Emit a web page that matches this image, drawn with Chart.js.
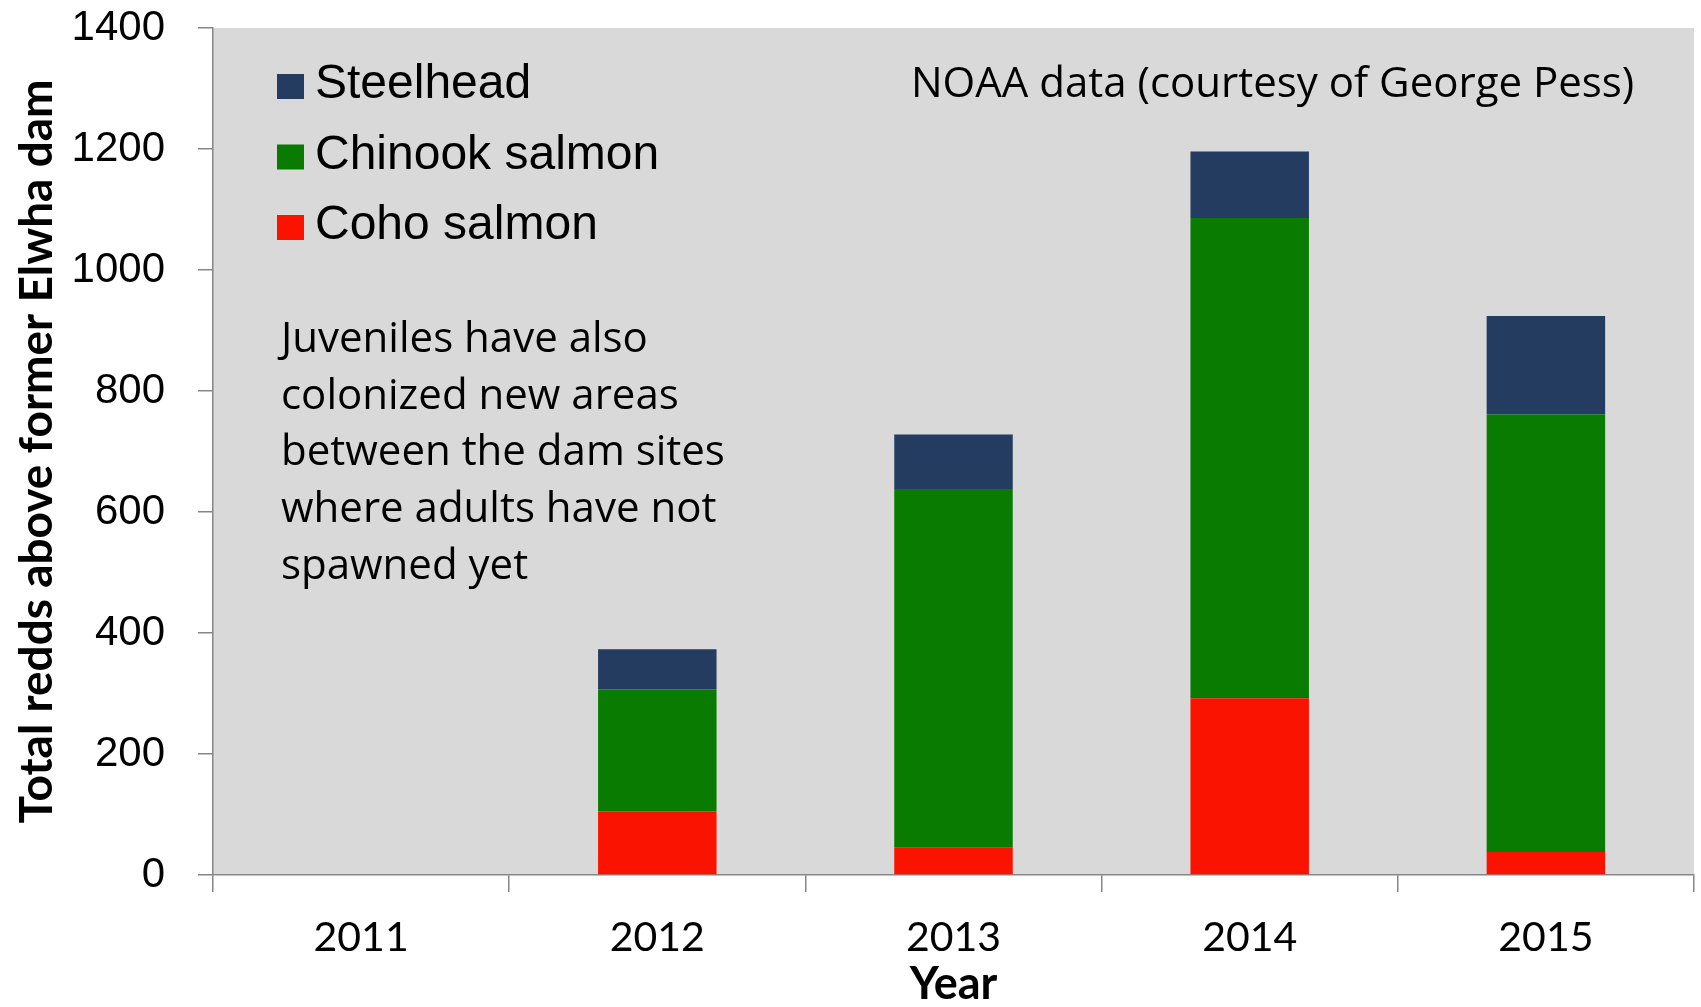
<!DOCTYPE html>
<html>
<head>
<meta charset="utf-8">
<script src="https://cdn.jsdelivr.net/npm/chart.js@4.4.1/dist/chart.umd.min.js"></script>
<style>
  html, body { margin: 0; padding: 0; background: #ffffff; }
  #wrap { width: 1701px; height: 1007px; }
</style>
</head>
<body>
<div id="wrap"><canvas id="redds" width="1701" height="1007"></canvas></div>
<script>
// Redds counted above the former Elwha dam, by species and year
const years = ['2011', '2012', '2013', '2014', '2015'];
const cohoRedds = [0, 105, 45, 292, 38];
const chinookRedds = [0, 202, 593, 794, 723];
const steelheadRedds = [0, 66, 90, 110, 163];
const yTicks = [0, 200, 400, 600, 800, 1000, 1200, 1400];

const seriesNames = ['Coho salmon', 'Chinook salmon', 'Steelhead'];
const seriesColors = ['#fa1400', '#087b00', '#233c60'];

const sourceNote = 'NOAA data (courtesy of George Pess)';
const juvenileNote = [
  'Juveniles have also',
  'colonized new areas',
  'between the dam sites',
  'where adults have not',
  'spawned yet'
];

const AXIS_GREY = '#868686';
const NOTE_FONT = '42px "Open Sans"';
const LEGEND_FONT = '48px "Liberation Sans"';

// grey plotting area behind the bars
const plotBackground = {
  id: 'plotBackground',
  beforeDraw(chart) {
    const { ctx, chartArea: a } = chart;
    ctx.save();
    ctx.fillStyle = '#d9d9d9';
    ctx.fillRect(a.left, a.top, a.right - a.left, a.bottom - a.top);
    ctx.restore();
  }
};

// legend inside the plot, top series first
const insetLegend = {
  id: 'insetLegend',
  afterDatasetsDraw(chart) {
    const { ctx, chartArea: a } = chart;
    const sets = chart.data.datasets;
    ctx.save();
    ctx.font = LEGEND_FONT;
    ctx.textBaseline = 'alphabetic';
    ctx.textAlign = 'left';
    for (let row = 0; row < sets.length; row++) {
      const ds = sets[sets.length - 1 - row];
      const base = a.top + 70 + row * 70.5;
      ctx.fillStyle = ds.backgroundColor;
      ctx.fillRect(a.left + 64, base - 24, 27, 25);
      ctx.fillStyle = '#000000';
      ctx.fillText(ds.label, a.left + 102, base);
    }
    ctx.restore();
  }
};

// free text notes placed in the plot
const plotNotes = {
  id: 'plotNotes',
  afterDatasetsDraw(chart) {
    const { ctx } = chart;
    ctx.save();
    ctx.font = NOTE_FONT;
    ctx.fillStyle = '#000000';
    ctx.textAlign = 'left';
    ctx.textBaseline = 'alphabetic';
    ctx.fillText(sourceNote, 911, 97);
    juvenileNote.forEach((line, i) => ctx.fillText(line, 281, 352 + i * 56.7));
    ctx.restore();
  }
};

function build() {
  new Chart(document.getElementById('redds'), {
    type: 'bar',
    data: {
      labels: years,
      datasets: [
        { label: seriesNames[0], data: cohoRedds, backgroundColor: seriesColors[0] },
        { label: seriesNames[1], data: chinookRedds, backgroundColor: seriesColors[1] },
        { label: seriesNames[2], data: steelheadRedds, backgroundColor: seriesColors[2] }
      ]
    },
    options: {
      responsive: false,
      animation: false,
      events: [],
      layout: { padding: { top: 28, right: 7, bottom: 0, left: 0 } },
      datasets: { bar: { barPercentage: 0.4, categoryPercentage: 1.0, borderWidth: 0 } },
      plugins: { legend: { display: false }, tooltip: { enabled: false } },
      scales: {
        x: {
          stacked: true,
          offset: true,
          grid: { offset: true, drawOnChartArea: false, drawTicks: true, tickLength: 17, color: AXIS_GREY, lineWidth: 1.5 },
          border: { color: AXIS_GREY, width: 1.5 },
          ticks: { font: { family: 'Lato', size: 41 }, color: '#000000', padding: 21, maxRotation: 0, autoSkip: false },
          title: {
            display: true, text: 'Year', color: '#000000',
            font: { family: 'Lato', size: 45, weight: 'bold', lineHeight: 1 },
            padding: { top: -3, bottom: 0 }
          },
          afterFit(scale) { scale.height = 132; }
        },
        y: {
          stacked: true,
          min: 0,
          max: 1400,
          afterBuildTicks(scale) { scale.ticks = yTicks.map(v => ({ value: v })); },
          grid: { drawOnChartArea: false, drawTicks: true, tickLength: 15, color: AXIS_GREY, lineWidth: 1.5 },
          border: { color: AXIS_GREY, width: 1.5 },
          ticks: {
            font: { family: 'Liberation Sans', size: 42 }, color: '#000000', padding: 33,
            callback: (v) => String(v)
          },
          title: {
            display: true, text: 'Total redds above former Elwha dam', color: '#000000',
            font: { family: 'Lato', size: 46, weight: 'bold' },
            padding: { top: 10, bottom: 0 }
          },
          afterFit(scale) {
            scale.width = 213;
            scale.paddingTop = 0;
            scale.paddingBottom = 0;
          }
        }
      }
    },
    plugins: [plotBackground, insetLegend, plotNotes]
  });
}

const fontLoads = ['42px "Open Sans"', 'bold 46px Lato', '41px Lato', '48px "Liberation Sans"', '42px "Liberation Sans"']
  .map(f => document.fonts.load(f).catch(() => null));
Promise.all(fontLoads).then(build, build);
</script>
</body>
</html>
